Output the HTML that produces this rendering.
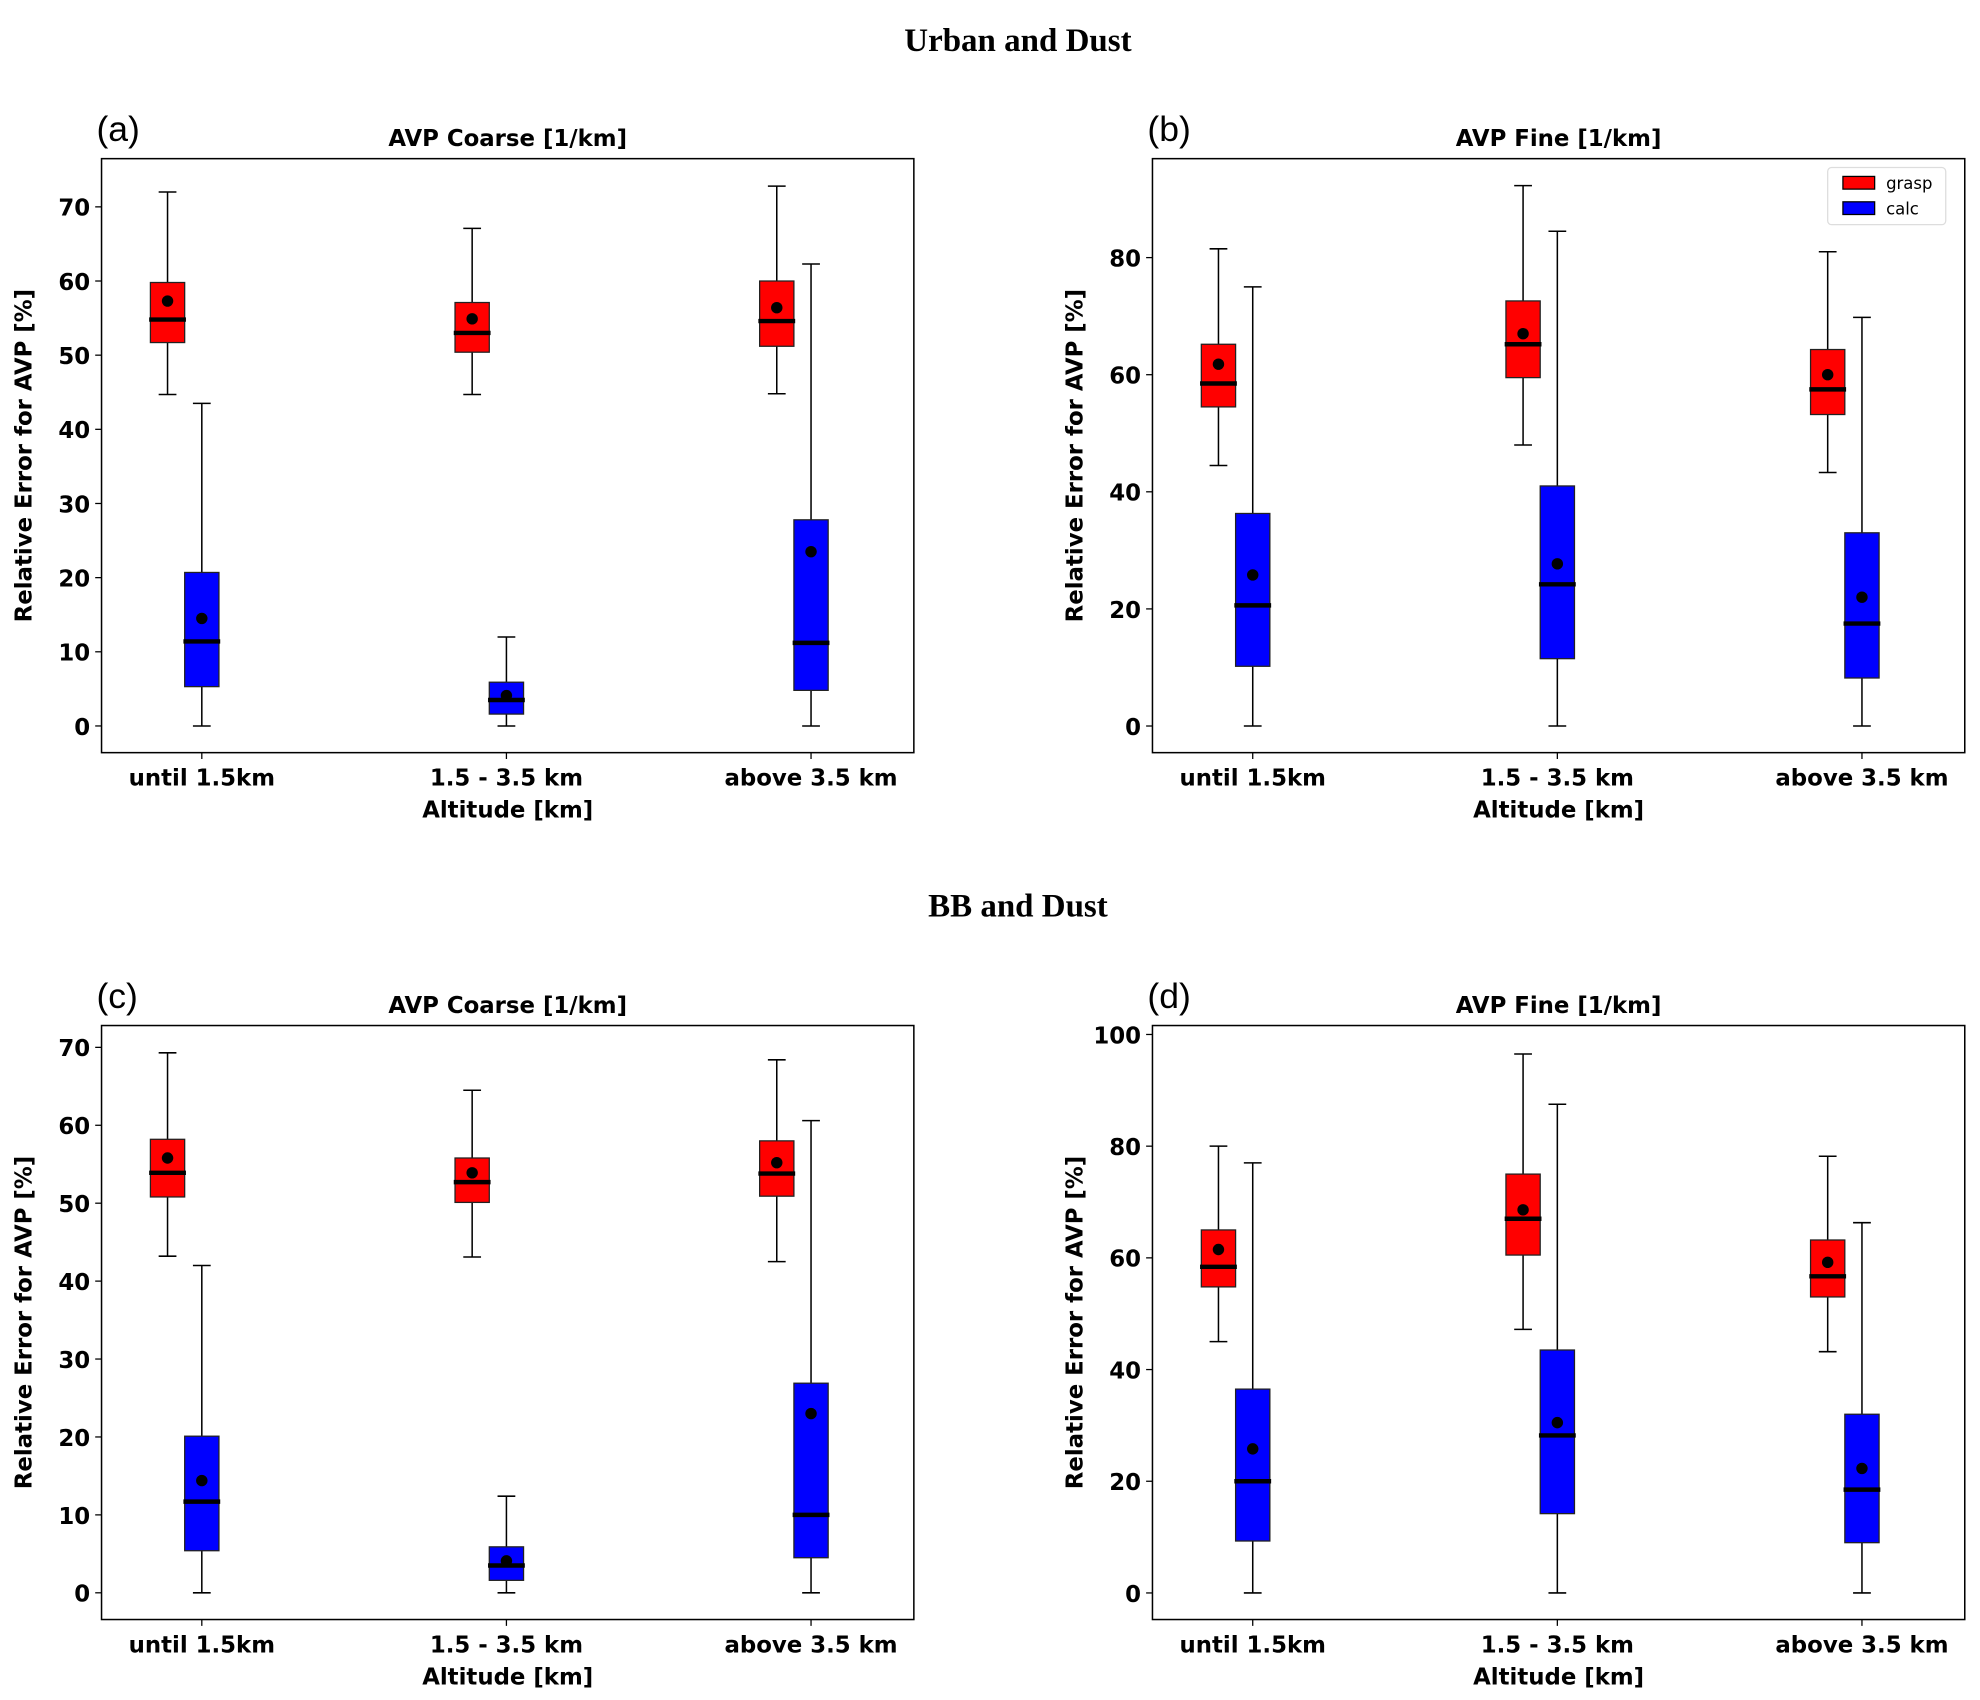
<!DOCTYPE html>
<html><head><meta charset="utf-8"><style>
html,body{margin:0;padding:0;background:#fff;}
svg{display:block;}
</style></head><body>
<svg id="fig" width="1980" height="1700" viewBox="0 0 1560 1339.4" xmlns="http://www.w3.org/2000/svg" font-family="'DejaVu Sans','Liberation Sans',sans-serif">
<rect width="1560" height="1340" fill="#fff"/>
<text x="802" y="40" text-anchor="middle" font-family="'Liberation Serif',serif" font-weight="bold" font-size="26">Urban and Dust</text>
<text x="802" y="722" text-anchor="middle" font-family="'Liberation Serif',serif" font-weight="bold" font-size="26">BB and Dust</text>
</svg>
<script>
const categories = ["until 1.5km", "1.5 - 3.5 km", "above 3.5 km"];
// each stat array: [whiskerLow, q1, median, q3, whiskerHigh, mean] per category
const aGrasp = [[44.7,51.7,54.8,59.8,72,57.3],[44.7,50.4,53,57.1,67.1,54.9],[44.8,51.2,54.6,60,72.8,56.4]];
const aCalc  = [[0,5.3,11.4,20.7,43.5,14.5],[0,1.6,3.5,5.9,12,4.1],[0,4.8,11.2,27.8,62.3,23.5]];
const bGrasp = [[44.5,54.5,58.5,65.2,81.5,61.8],[48,59.5,65.2,72.6,92.3,67],[43.3,53.2,57.5,64.3,81,60]];
const bCalc  = [[0,10.2,20.6,36.3,75,25.8],[0,11.5,24.2,41,84.5,27.7],[0,8.2,17.5,33,69.8,22]];
const cGrasp = [[43.2,50.8,53.9,58.2,69.3,55.8],[43.1,50.1,52.7,55.8,64.5,53.9],[42.5,50.9,53.8,58,68.4,55.2]];
const cCalc  = [[0,5.4,11.7,20.1,42,14.4],[0,1.6,3.5,5.9,12.4,4.1],[0,4.5,10,26.9,60.6,23]];
const dGrasp = [[45,54.8,58.4,65,80,61.5],[47.2,60.5,67,75,96.5,68.6],[43.2,53,56.7,63.2,78.2,59.2]];
const dCalc  = [[0,9.3,20,36.5,77,25.8],[0,14.2,28.2,43.5,87.5,30.5],[0,9,18.5,32,66.3,22.3]];
const aTicks = [0,10,20,30,40,50,60,70];
const bTicks = [0,20,40,60,80];
const cTicks = [0,10,20,30,40,50,60,70];
const dTicks = [0,20,40,60,80,100];
const yDomains = {a:[-3.6,76.5], b:[-4.55,96.9], c:[-3.43,72.8], d:[-4.76,101.6]};

const NS="http://www.w3.org/2000/svg";
const svg=document.getElementById('fig');
function mk(tag,attrs,parent){const e=document.createElementNS(NS,tag);for(const k in attrs)e.setAttribute(k,attrs[k]);(parent||svg).appendChild(e);return e;}

const panels=[
 {id:'a',x0:80,y0:125,title:'AVP Coarse [1/km]',g:aGrasp,c:aCalc,ticks:aTicks,legend:false},
 {id:'b',x0:908,y0:125,title:'AVP Fine [1/km]',g:bGrasp,c:bCalc,ticks:bTicks,legend:true},
 {id:'c',x0:80,y0:808,title:'AVP Coarse [1/km]',g:cGrasp,c:cCalc,ticks:cTicks,legend:false},
 {id:'d',x0:908,y0:808,title:'AVP Fine [1/km]',g:dGrasp,c:dCalc,ticks:dTicks,legend:false}
];
const W=640,H=468;
panels.forEach(p=>{
 const dom=yDomains[p.id];
 const y=v=>p.y0+H-(v-dom[0])/(dom[1]-dom[0])*H;
 const xc=i=>p.x0+79+i*240;
 const g=mk('g',{});
 
 
 const lab=mk('text',{x:p.x0-4,y:p.y0-14,'font-size':28,'font-family':"'Liberation Sans',sans-serif"},g);
 lab.textContent='('+p.id+')';
 
 
 const t=mk('text',{x:p.x0+W/2,y:p.y0-10,'text-anchor':'middle','font-size':18,'font-weight':'bold'},g);
 t.textContent=p.title;
 
 
 // y ticks
 p.ticks.forEach(v=>{
  const yy=y(v);
  mk('line',{x1:p.x0-5,x2:p.x0,y1:yy,y2:yy,stroke:'#000','stroke-width':1},g);
  const tl=mk('text',{x:p.x0-9,y:yy+7,'text-anchor':'end','font-size':18,'font-weight':'bold'},g);
  tl.textContent=v;
  
  
 });
 const yl=mk('text',{transform:`translate(${p.x0-55},${p.y0+H/2}) rotate(-90)`,'text-anchor':'middle','font-size':18,'font-weight':'bold'},g);
 yl.textContent='Relative Error for AVP [%]';
 
 
 categories.forEach((cname,i)=>{
  const cx=xc(i);
  mk('line',{x1:cx,x2:cx,y1:p.y0+H,y2:p.y0+H+5,stroke:'#000','stroke-width':1},g);
  const xl=mk('text',{x:cx,y:p.y0+H+26,'text-anchor':'middle','font-size':18,'font-weight':'bold'},g);
  xl.textContent=cname;
  
  
 });
 const xt=mk('text',{x:p.x0+W/2,y:p.y0+H+51,'text-anchor':'middle','font-size':18,'font-weight':'bold'},g);
 xt.textContent='Altitude [km]';
 
 
 function box(s,cx,fill,name){
  const bw=27,cw=14;
  const bg=mk('g',{},g);
  
  
  mk('line',{x1:cx,x2:cx,y1:y(s[0]),y2:y(s[1]),stroke:'#000','stroke-width':1.2},bg);
  mk('line',{x1:cx,x2:cx,y1:y(s[3]),y2:y(s[4]),stroke:'#000','stroke-width':1.2},bg);
  mk('line',{x1:cx-cw/2,x2:cx+cw/2,y1:y(s[0]),y2:y(s[0]),stroke:'#000','stroke-width':1.2},bg);
  mk('line',{x1:cx-cw/2,x2:cx+cw/2,y1:y(s[4]),y2:y(s[4]),stroke:'#000','stroke-width':1.2},bg);
  mk('rect',{x:cx-bw/2,y:y(s[3]),width:bw,height:y(s[1])-y(s[3]),fill:fill,stroke:'#222','stroke-width':1},bg);
  mk('line',{x1:cx-bw/2-1,x2:cx+bw/2+1,y1:y(s[2]),y2:y(s[2]),stroke:'#000','stroke-width':3.5},bg);
  mk('circle',{cx:cx,cy:y(s[5]),r:4.5,fill:'#000'},bg);
 }
 p.g.forEach((s,i)=>box(s,xc(i)-27,'#ff0000','box-grasp-'+i));
 p.c.forEach((s,i)=>box(s,xc(i),'#0000ff','box-calc-'+i));
 mk('rect',{x:p.x0,y:p.y0,width:W,height:H,fill:'none',stroke:'#000','stroke-width':1.2},g);
 if(p.legend){
  const lg=mk('g',{},g);
  
  
  mk('rect',{x:1440,y:132,width:93,height:45,rx:3,fill:'#fff',stroke:'#ddd','stroke-width':1},lg);
  [['grasp','#ff0000',144],['calc','#0000ff',164]].forEach(([n,c,yy])=>{
   const e=mk('g',{},lg);
   
   
   mk('rect',{x:1452,y:yy-5,width:25,height:10,fill:c,stroke:'#000','stroke-width':1},e);
   const tx=mk('text',{x:1486,y:yy+5,'font-size':13},e);
   tx.textContent=n;
  });
 }
});
</script>
</body></html>
